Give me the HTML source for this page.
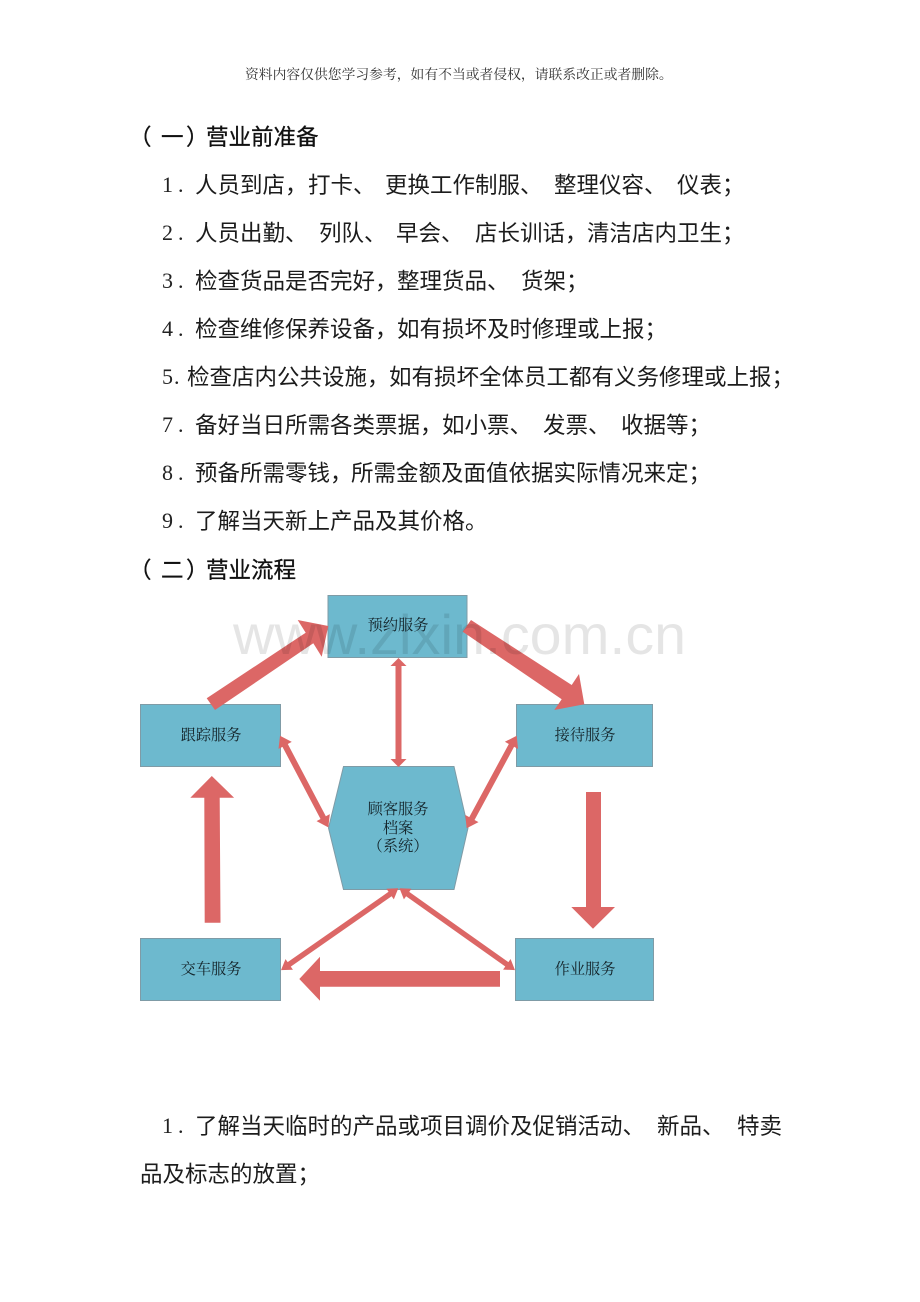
<!DOCTYPE html>
<html><head><meta charset="utf-8"><style>
html,body{margin:0;padding:0;background:#fff;width:920px;height:1302px;overflow:hidden}
svg{display:block}
.t{font-family:"Liberation Sans","WenQuanYi Zen Hei","Noto Sans CJK SC",sans-serif;font-size:22.5px;fill:#1c1c1c}
.h{font-family:"Liberation Sans","Noto Sans CJK SC",sans-serif;font-size:22.5px;fill:#111;stroke:#111;stroke-width:.3}
.n{font-family:"Liberation Serif",serif;font-size:22px;fill:#222;letter-spacing:5px}
.l{font-family:"Liberation Serif","Noto Serif CJK SC",serif;font-size:15.2px;fill:#14242a;text-anchor:middle}
.top{font-family:"Liberation Serif","Noto Serif CJK SC",serif;font-size:13.8px;fill:#333}
.b{fill:#6db9ce;stroke:#7f9ba6;stroke-width:1}
.a{fill:#dc6766}
</style></head><body>
<svg width="920" height="1302" viewBox="0 0 920 1302" xmlns="http://www.w3.org/2000/svg">
<rect width="920" height="1302" fill="#fff"/>
<text class="top" x="245" y="79">资料内容仅供您学习参考，如有不当或者侵权，请联系改正或者删除。</text>

<text class="h" x="129" y="145">（</text><text class="h" x="161" y="145">一</text><text class="h" x="186" y="145">）</text><text class="h" x="206" y="145">营业前准备</text>

<text class="n" x="162" y="192">1.</text><text class="t" x="195" y="193">人员到店，</text><text class="t" x="308" y="193">打卡、</text><text class="t" x="385" y="193">更换工作制服、</text><text class="t" x="554" y="193">整理仪容、</text><text class="t" x="677" y="193">仪表；</text>
<text class="n" x="162" y="240">2.</text><text class="t" x="195" y="241">人员出勤、</text><text class="t" x="319" y="241">列队、</text><text class="t" x="396" y="241">早会、</text><text class="t" x="475" y="241">店长训话，</text><text class="t" x="587" y="241">清洁店内卫生；</text>
<text class="n" x="162" y="288">3.</text><text class="t" x="195" y="289">检查货品是否完好，</text><text class="t" x="397" y="289">整理货品、</text><text class="t" x="521" y="289">货架；</text>
<text class="n" x="162" y="336">4.</text><text class="t" x="195" y="337">检查维修保养设备，</text><text class="t" x="397" y="337">如有损坏及时修理或上报；</text>
<text class="n" x="162" y="384" style="letter-spacing:1px">5.</text><text class="t" x="187" y="385">检查店内公共设施，</text><text class="t" x="389" y="385">如有损坏全体员工都有义务修理或上报；</text>
<text class="n" x="162" y="432">7.</text><text class="t" x="195" y="433">备好当日所需各类票据，</text><text class="t" x="442" y="433">如小票、</text><text class="t" x="543" y="433">发票、</text><text class="t" x="621" y="433">收据等；</text>
<text class="n" x="162" y="480">8.</text><text class="t" x="195" y="481">预备所需零钱，</text><text class="t" x="351" y="481">所需金额及面值依据实际情况来定；</text>
<text class="n" x="162" y="528">9.</text><text class="t" x="195" y="529">了解当天新上产品及其价格。</text>

<text class="h" x="129" y="578">（</text><text class="h" x="161" y="578">二</text><text class="h" x="186" y="578">）</text><text class="h" x="206" y="578">营业流程</text>

<rect class="b" x="328" y="595.5" width="139" height="62"/>
<rect class="b" x="140.5" y="704.5" width="140" height="62"/>
<rect class="b" x="516.5" y="704.5" width="136" height="62"/>
<rect class="b" x="140.5" y="938.5" width="140" height="62"/>
<rect class="b" x="515.5" y="938.5" width="138" height="62"/>
<polygon class="b" points="343.5,766.5 454,766.5 468,828 454,889.5 343.5,889.5 328.5,828"/>

<text class="l" x="398" y="630">预约服务</text>
<text class="l" x="211" y="740">跟踪服务</text>
<text class="l" x="585" y="740">接待服务</text>
<text class="l" x="398" y="814">顾客服务</text>
<text class="l" x="398" y="833">档案</text>
<text class="l" x="398" y="851">（系统）</text>
<text class="l" x="211" y="974">交车服务</text>
<text class="l" x="585" y="974">作业服务</text>

<polygon class="a" points="206.7,698.3 305.7,632.7 297.7,620 328.3,626 321.7,656.7 313.3,643.3 215,710"/>
<polygon class="a" points="471,620 571.7,685 579,674 584.3,704.3 554.3,710 561.7,699.3 462.7,631.7"/>
<polygon class="a" points="204.3,797.7 190.3,797.7 211.8,776 234.1,797.7 219.7,797.7 220.5,922.7 204.7,922.7"/>
<polygon class="a" points="586,792 601,792 601,907 615,907 593,928.7 571.3,907 586,907"/>
<polygon class="a" points="299.3,979 320,956.7 320,971 500,971 500,986.7 320,986.7 320,1000.7"/>

<polygon class="a" points="398.5,658 406.5,666 401.5,666 401.5,759 406.5,759 398.5,767 390.5,759 395.5,759 395.5,666 390.5,666"/>
<g transform="translate(280,735.7) rotate(62.2)"><polygon class="a" points="0,0 11,-7.5 11,-3 92.6,-3 92.6,-7.5 103.6,0 92.6,7.5 92.6,3 11,3 11,7.5"/></g>
<g transform="translate(516.7,735.7) rotate(118.4)"><polygon class="a" points="0,0 11,-7.5 11,-3 94.2,-3 94.2,-7.5 105.2,0 94.2,7.5 94.2,3 11,3 11,7.5"/></g>
<g transform="translate(398.3,888.3) rotate(145.1)"><polygon class="a" points="0,0 10,-6.5 10,-2.7 133,-2.7 133,-6.5 143,0 133,6.5 133,2.7 10,2.7 10,6.5"/></g>
<g transform="translate(399.5,888.3) rotate(35.3)"><polygon class="a" points="0,0 10,-6.5 10,-2.7 131.5,-2.7 131.5,-6.5 141.5,0 131.5,6.5 131.5,2.7 10,2.7 10,6.5"/></g>

<text x="233" y="654" font-family="Liberation Sans,sans-serif" font-size="56" fill="#000" fill-opacity=".1" textLength="453" lengthAdjust="spacingAndGlyphs">www.zixin.com.cn</text>

<text class="n" x="162" y="1133">1.</text><text class="t" x="195" y="1134">了解当天临时的产品或项目调价及促销活动、</text><text class="t" x="657" y="1134">新品、</text><text class="t" x="737" y="1134">特卖</text>
<text class="t" x="140" y="1182">品及标志的放置；</text>
</svg>
</body></html>
